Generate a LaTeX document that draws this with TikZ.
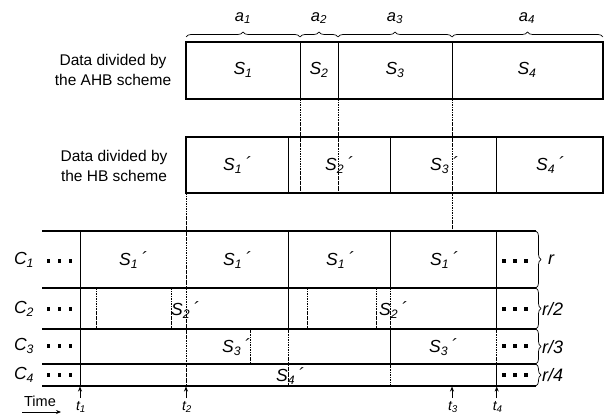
\documentclass[tikz,border=0pt]{standalone}
\usepackage{fontspec}
\setmainfont{Liberation Sans}
\usetikzlibrary{decorations.pathreplacing,arrows.meta}
\newcommand{\Sl}[2]{\textit{S}\textsubscript{\textit{#1}}#2}
\newcommand{\pr}{\,\raisebox{0.15ex}{´}}
\tikzset{
  boxline/.style={line width=1.5pt},
  rowline/.style={line width=1.5pt},
  divline/.style={line width=1pt},
  dashline/.style={line width=1pt, dash pattern=on 2.5pt off 0.8pt on 0.8pt off 0.8pt},
  brc/.style={decorate, decoration={brace, amplitude=5pt}, line width=0.7pt},
  slab/.style={font=\fontsize{17.5}{20}\selectfont\itshape, inner sep=0pt},
  alab/.style={font=\fontsize{16.5}{19}\selectfont\itshape, inner sep=0pt},
  clab/.style={font=\fontsize{17.5}{20}\selectfont\itshape, inner sep=0pt},
  rlab/.style={font=\fontsize{18}{20}\selectfont\itshape, inner sep=0pt, anchor=west},
  tlab/.style={font=\fontsize{14}{16}\selectfont\itshape, inner sep=0pt},
  desc/.style={font=\fontsize{15.5}{20}\selectfont, align=center, inner sep=0pt},
  tarrow/.style={line width=0.8pt, -{Stealth[length=5pt,width=4pt]}},
  dotsq/.style={fill=black}
}
\begin{document}
\begin{tikzpicture}[x=1pt,y=-1pt]
\useasboundingbox (0,0) rectangle (606,417);

% ---------- AHB box ----------
\draw[boxline] (186,42) rectangle (603,99);
\draw[divline] (300,42)--(300,99) (338,42)--(338,99) (452,42)--(452,99);
\node[desc] (dA) at (113,70) {Data divided by\\the AHB scheme};
\node[slab] (S1) at (243,70) {\Sl{1}{}};
\node[slab] (S2) at (319,70) {\Sl{2}{}};
\node[slab] (S3) at (395,70) {\Sl{3}{}};
\node[slab] (S4) at (527,70) {\Sl{4}{}};

% braces
\draw[brc] (186,37)--(300,37);
\draw[brc] (300,37)--(338,37);
\draw[brc] (338,37)--(452,37);
\draw[brc] (452,37)--(603,37);
\node[alab] (a1) at (243,18) {a\textsubscript{1}};
\node[alab] (a2) at (319,18) {a\textsubscript{2}};
\node[alab] (a3) at (395,18) {a\textsubscript{3}};
\node[alab] (a4) at (527,18) {a\textsubscript{4}};

% ---------- HB box ----------
\draw[boxline] (186,137) rectangle (603,193);
\draw[divline] (288.3,137)--(288.3,193) (390.7,137)--(390.7,193) (496.7,137)--(496.7,193);
\node[desc] (dH) at (114,166) {Data divided by\\the HB scheme};
\node[slab] (H1) at (237,165) {\Sl{1}{\pr}};
\node[slab] (H2) at (339,165) {\Sl{2}{\pr}};
\node[slab] (H3) at (444,165) {\Sl{3}{\pr}};
\node[slab] (H4) at (550,165) {\Sl{4}{\pr}};

% dashed projections
\draw[dashline] (300,99)--(300,193) (338,99)--(338,193) (452,99)--(452,231) (186,193)--(186,386);

% ---------- timeline rows ----------
\foreach \y in {231,288,329,364,386} \draw[rowline] (42,\y)--(536,\y);

\draw[divline] (80,231)--(80,386);
\draw[divline] (288.3,231)--(288.3,329);
\draw[dashline] (288.3,329)--(288.3,386);
\draw[divline] (390.7,231)--(390.7,288);
\draw[dashline] (390.7,288)--(390.7,329);
\draw[divline] (390.7,329)--(390.7,364);
\draw[dashline] (390.7,364)--(390.7,386);
\draw[divline] (496.7,231)--(496.7,329);
\draw[dashline] (496.7,329)--(496.7,364);
\draw[divline] (496.7,364)--(496.7,386);
\draw[dashline] (96,288)--(96,329) (171,288)--(171,329) (307,288)--(307,329) (376,288)--(376,329);
\draw[dashline] (250,329)--(250,364);

% row labels
\node[clab] (C1) at (24,260) {C\textsubscript{1}};
\node[clab] (C2) at (24,309) {C\textsubscript{2}};
\node[clab] (C3) at (24,346) {C\textsubscript{3}};
\node[clab] (C4) at (24,375) {C\textsubscript{4}};

% dots
\foreach \y in {261,309,346,375}{
  \foreach \dx in {-11,0,11}{
    \fill[dotsq] (59.5+\dx-1.7,\y-1.7) rectangle ++(3.4,3.4);
    \fill[dotsq] (515+\dx-1.7,\y-1.7) rectangle ++(3.4,3.4);
  }
}

% segment labels
\node[slab] (r1a) at (133,260) {\Sl{1}{\pr}};
\node[slab] (r1b) at (237,260) {\Sl{1}{\pr}};
\node[slab] (r1c) at (340,260) {\Sl{1}{\pr}};
\node[slab] (r1d) at (444,260) {\Sl{1}{\pr}};
\node[slab] (r2a) at (185,310) {\Sl{2}{\pr}};
\node[slab] (r2b) at (393,310) {\Sl{2}{\pr}};
\node[slab] (r3a) at (236,347) {\Sl{3}{\pr}};
\node[slab] (r3b) at (443,347) {\Sl{3}{\pr}};
\node[slab] (r4a) at (290,376) {\Sl{4}{\pr}};

% right braces
\draw[brc] (536,231)--(536,288);
\draw[brc] (536,288)--(536,329);
\draw[brc] (536,329)--(536,364);
\draw[brc] (536,364)--(536,386);
\node[rlab] (rr1) at (548,260) {r};
\node[rlab] (rr2) at (542,309) {r/2};
\node[rlab] (rr3) at (542,347) {r/3};
\node[rlab] (rr4) at (542,375) {r/4};

% time markers
\foreach \x/\n in {80/1,186/2,452/3,496.7/4}{
  \coordinate (tb\n) at (\x,398);
  \coordinate (tt\n) at (\x,386.5);
  \draw[tarrow] (tb\n)--(tt\n);
  \node[tlab] (tl\n) at (\x+1,407) {t\textsubscript{\n}};
}
\node[font=\fontsize{14.5}{16}\selectfont, inner sep=0pt] (time) at (40,401) {Time};
\coordinate (ta) at (22,412);
\coordinate (tz) at (61,412);
\draw[tarrow] (ta)--(tz);
\end{tikzpicture}
\end{document}
